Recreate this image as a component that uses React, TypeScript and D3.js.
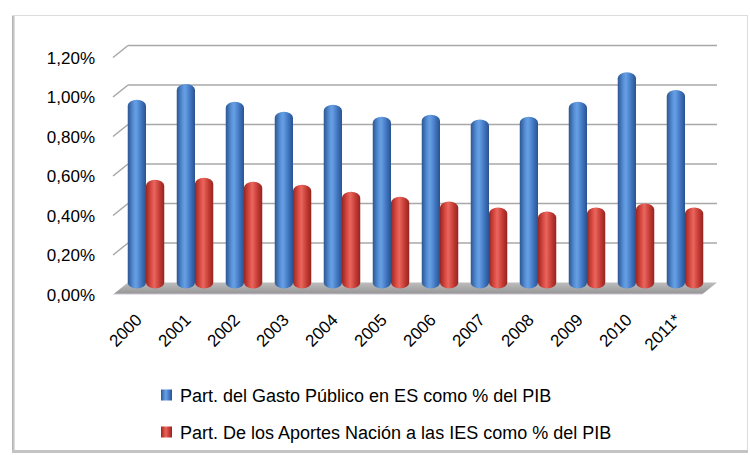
import React from 'react';
import * as d3 from 'd3';

// chart data
const years = ['2000', '2001', '2002', '2003', '2004', '2005', '2006', '2007', '2008', '2009', '2010', '2011*'];
const gastoPublico = [0.94, 1.02, 0.93, 0.88, 0.915, 0.855, 0.865, 0.84, 0.855, 0.93, 1.08, 0.99];
const aportesNacion = [0.535, 0.545, 0.525, 0.51, 0.475, 0.45, 0.425, 0.395, 0.375, 0.395, 0.415, 0.395];
const yTicks = [0, 0.2, 0.4, 0.6, 0.8, 1.0, 1.2];
const seriesNames = [
  'Part. del Gasto Público en ES como % del PIB',
  'Part. De los Aportes Nación a las IES como % del PIB',
];

const width = 750;
const height = 455;
const font = "'Liberation Sans', Arial, sans-serif";

const App = () => {
  // 3d box: front plane and back wall
  const depthX = 15;
  const depthY = -12;
  const left = 113;
  const right = 702;

  const yFront = d3.scaleLinear().domain([0, 1.2]).range([294.5, 57.5]);
  const yBack = d3.scaleLinear().domain([0, 1.2]).range([294.5 + depthY, 57.5 + depthY]);
  const yBar = d3.scaleLinear().domain([0, 1.2]).range([288.5, 288.5 - 1.2 * 197.5]);

  const x = d3.scaleBand().domain(years).range([115, 716]).paddingInner(0.255).paddingOuter(0.26);
  const xs = d3.scaleBand().domain(['a', 'b']).range([0, x.bandwidth()]);

  const rows = years.map((yr, i) => ({ yr, a: gastoPublico[i], b: aportesNacion[i] }));

  const floor = [
    [left, yFront(0)],
    [left + depthX, yBack(0)],
    [right + depthX, yBack(0)],
    [right, yFront(0)],
  ];

  // cylinder-ish bar: rounded top cap
  const bar = (cx: number, v: number, fill: string, key: string) => {
    const w = xs.bandwidth();
    const top = yBar(v) - 3;
    return (
      <rect key={key} x={cx} y={top} width={w} height={yBar(0) - top} rx={w / 2} ry={6} fill={fill} />
    );
  };

  return (
    <svg width={width} height={height} style={{ position: 'absolute', left: 0, top: 0, background: '#fff' }}>
      <defs>
        <linearGradient id="blueCyl" x1="0" x2="1" y1="0" y2="0">
          <stop offset="0%" stopColor="#2b5592" />
          <stop offset="30%" stopColor="#5790d6" />
          <stop offset="45%" stopColor="#68a0e4" />
          <stop offset="75%" stopColor="#3f75c0" />
          <stop offset="100%" stopColor="#2a528c" />
        </linearGradient>
        <linearGradient id="redCyl" x1="0" x2="1" y1="0" y2="0">
          <stop offset="0%" stopColor="#9a2521" />
          <stop offset="30%" stopColor="#dc4d45" />
          <stop offset="45%" stopColor="#e8675e" />
          <stop offset="75%" stopColor="#c43a33" />
          <stop offset="100%" stopColor="#932420" />
        </linearGradient>
        <linearGradient id="floorGrad" x1="0" x2="0" y1="0" y2="1">
          <stop offset="0%" stopColor="#bdbdbd" />
          <stop offset="85%" stopColor="#9a9a9a" />
          <stop offset="100%" stopColor="#c9c3d2" />
        </linearGradient>
        <linearGradient id="leftShadow" x1="0" x2="1" y1="0" y2="0">
          <stop offset="0%" stopColor="#a8a8a8" />
          <stop offset="100%" stopColor="#e6e6e6" />
        </linearGradient>
      </defs>

      {/* frame */}
      <rect x={12.5} y={15.5} width={735} height={437} fill="#fff" stroke="#dcdcdc" strokeWidth={1} />
      <rect x={12} y={16} width={3} height={437} fill="url(#leftShadow)" />
      <rect x={12} y={450} width={736} height={3} fill="#c4c4c4" />

      {/* floor */}
      <polygon points={floor.map((p) => p.join(',')).join(' ')} fill="url(#floorGrad)" />

      {/* gridlines: side wall stub + back wall */}
      {yTicks.filter((t) => t > 0).map((t) => (
        <g key={t}>
          <line x1={left} y1={yFront(t)} x2={left + depthX} y2={yBack(t)} stroke="#a8a8a8" strokeWidth={1.6} />
          <line x1={left + depthX} y1={yBack(t)} x2={right + depthX} y2={yBack(t)} stroke="#a8a8a8" strokeWidth={1.6} />
        </g>
      ))}

      {/* y labels */}
      {yTicks.map((t) => (
        <text key={t} x={95} y={yFront(t) + 6} textAnchor="end" fontFamily={font} fontSize={17} fill="#000">
          {d3.format('.2f')(t).replace('.', ',') + '%'}
        </text>
      ))}

      {/* bars */}
      {rows.map((r) => (
        <g key={r.yr}>
          {bar(x(r.yr)! + xs('a')!, r.a, 'url(#blueCyl)', 'a')}
          {bar(x(r.yr)! + xs('b')!, r.b, 'url(#redCyl)', 'b')}
        </g>
      ))}

      {/* x labels */}
      {years.map((yr) => {
        const cx = x(yr)! + x.bandwidth() / 2 - 3;
        return (
          <text key={yr} transform={`translate(${cx},321) rotate(-45)`} textAnchor="end" fontFamily={font} fontSize={17} fill="#000">
            {yr}
          </text>
        );
      })}

      {/* legend */}
      {seriesNames.map((name, i) => {
        const cy = 395 + i * 37;
        return (
          <g key={name}>
            <rect x={161} y={cy - 5.5} width={11} height={11} fill={i === 0 ? 'url(#blueCyl)' : 'url(#redCyl)'} />
            <text x={180} y={cy + 6.5} fontFamily={font} fontSize={18} fill="#000">
              {name}
            </text>
          </g>
        );
      })}
    </svg>
  );
};

export default App;
